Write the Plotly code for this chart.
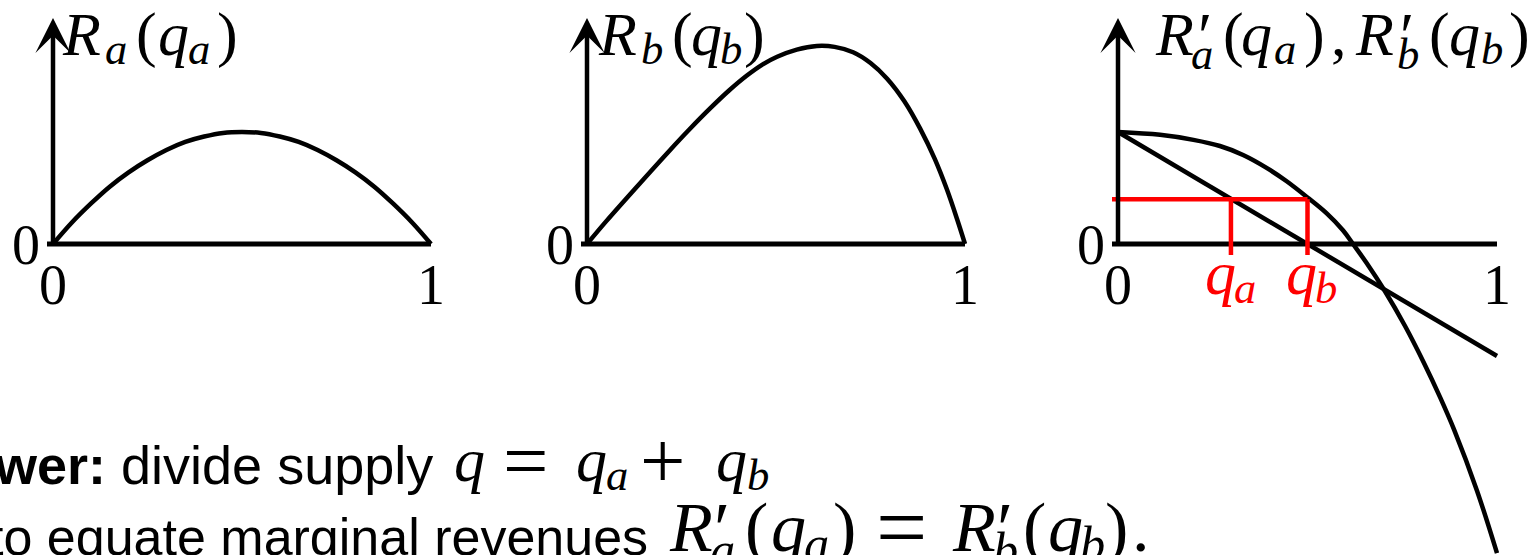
import plotly.graph_objects as go

# ---------------------------------------------------------------- data
# Revenue of market a, R_a(q_a)
q_rev_a = [0, 0.05, 0.1, 0.15, 0.2, 0.25, 0.3, 0.35, 0.4, 0.45, 0.5,
           0.55, 0.6, 0.65, 0.7, 0.75, 0.8, 0.85, 0.9, 0.95, 1.0]
rev_a = [0, 0.048, 0.09, 0.128, 0.16, 0.187, 0.21, 0.228, 0.24, 0.248, 0.25,
         0.248, 0.24, 0.228, 0.21, 0.187, 0.16, 0.128, 0.09, 0.048, 0]

# Revenue of market b, R_b(q_b)
q_rev_b = [0, 0.05, 0.132, 0.22, 0.27, 0.325, 0.375, 0.423, 0.465, 0.503, 0.555,
           0.608, 0.655, 0.704, 0.75, 0.794, 0.84, 0.881, 0.92, 0.952, 0.98, 1.0]
rev_b = [0, 0.05, 0.128, 0.21, 0.255, 0.302, 0.342, 0.376, 0.401, 0.418, 0.434,
         0.442, 0.44, 0.428, 0.404, 0.369, 0.318, 0.258, 0.19, 0.122, 0.053, 0]

# Marginal revenues R'_a (straight) and R'_b (curved)
q_mr_a = [0, 1.0]
mr_a = [1.0, -1.0]
q_mr_b = [0, 0.111, 0.199, 0.269, 0.33, 0.392, 0.445, 0.502, 0.55, 0.594, 0.62,
          0.656, 0.704, 0.757, 0.807, 0.85, 0.887, 0.947, 1.0]
mr_b = [1.0, 0.975, 0.93, 0.875, 0.795, 0.68, 0.56, 0.41, 0.275, 0.12, 0.0,
        -0.17, -0.42, -0.73, -1.06, -1.37, -1.66, -2.2, -2.76]

# Optimal split: both marginal revenues equal this level
q_a_opt = 0.298
q_b_opt = 0.5
mr_level = 0.4

tick_labels = ["0", "1"]

# ---------------------------------------------------------------- layout helpers
W, H = 1537, 555
SERIF = "Liberation Serif, Times New Roman, serif"
SANS = "Liberation Sans, Arial, Helvetica, sans-serif"
RED = "#ff0000"
BOX_MID = 0.3375   # text-box centre above the baseline, in em, for Liberation Serif

# pixel geometry of each small panel: origin, q=1 position, vertical scale, band
panels = [
    dict(x0=53, x1=431, y0=244, sy=448, left=0, right=520),
    dict(x0=587, x1=965, y0=244, sy=448, left=520, right=1060),
    dict(x0=1118, x1=1497, y0=244, sy=112, left=1060, right=1537),
]


def px(x):
    return x / W


def py(y):
    return 1 - y / H


annotations = []
shapes = []


def math_text(tokens, baseline, size, color="black"):
    """Lay out a formula token by token (x = left edge in pixels)."""
    axis = baseline - 0.25 * size
    for text, x, role in tokens:
        s, bl, t = size, baseline, text
        if role == "i":
            t = "<i>%s</i>" % text
        elif role == "sub":
            s, bl, t = 0.72 * size, baseline + 0.15 * size, "<i>%s</i>" % text
        elif role == "subp":
            s, bl, t = 0.72 * size, baseline + 0.23 * size, "<i>%s</i>" % text
        elif role == "prime":
            s, bl, t = 1.05 * size, baseline + 0.05 * size, "′"
        elif role == "op":
            s = 1.3 * size
            bl = axis + 0.27 * s
        annotations.append(dict(xref="paper", yref="paper",
                                x=px(x), y=py(bl - BOX_MID * s),
                                text=t, showarrow=False,
                                xanchor="left", yanchor="middle",
                                font=dict(family=SERIF, size=s, color=color)))


fig = go.Figure()
layout = dict(
    width=W, height=H,
    margin=dict(l=0, r=0, t=0, b=0, pad=0),
    paper_bgcolor="white", plot_bgcolor="white",
    showlegend=False,
)

for k, p in enumerate(panels, start=1):
    sx = p["x1"] - p["x0"]
    suffix = "" if k == 1 else str(k)
    layout["xaxis" + suffix] = dict(
        domain=[p["left"] / W, p["right"] / W],
        range=[(p["left"] - p["x0"]) / sx, (p["right"] - p["x0"]) / sx],
        visible=False, fixedrange=True, anchor="y" + suffix,
    )
    layout["yaxis" + suffix] = dict(
        domain=[0, 1],
        range=[-(H - p["y0"]) / p["sy"], p["y0"] / p["sy"]],
        visible=False, fixedrange=True, anchor="x" + suffix,
    )
    xr, yr = "x" + suffix, "y" + suffix
    p["sx"] = sx

    # horizontal axis (with a short stub left of the origin)
    shapes.append(dict(type="line", xref=xr, yref=yr,
                       x0=-6 / sx, x1=1, y0=0, y1=0,
                       line=dict(color="black", width=5)))
    # vertical axis with arrow head
    annotations.append(dict(xref=xr, yref=yr, axref=xr, ayref=yr,
                            x=0, y=(p["y0"] - 18) / p["sy"], ax=0, ay=-2 / p["sy"],
                            text="", showarrow=True, arrowhead=3,
                            arrowsize=1.3, arrowwidth=4.5, arrowcolor="black"))
    # tick labels 0 and 1 under the horizontal axis, 0 left of the origin
    for val, lab in zip([0, 1], tick_labels):
        annotations.append(dict(xref="paper", yref="paper",
                                x=px(p["x0"] + val * sx), y=py(285),
                                text=lab, showarrow=False,
                                xanchor="center", yanchor="middle",
                                font=dict(family=SERIF, size=56, color="black")))
    annotations.append(dict(xref="paper", yref="paper",
                            x=px(p["x0"] - 27), y=py(245),
                            text="0", showarrow=False,
                            xanchor="center", yanchor="middle",
                            font=dict(family=SERIF, size=56, color="black")))

curve = dict(color="black", width=4.5)

# panel 1: R_a
fig.add_trace(go.Scatter(x=q_rev_a, y=rev_a, xaxis="x", yaxis="y", mode="lines",
                         line=dict(shape="spline", smoothing=1.0, **curve),
                         hoverinfo="skip"))
# panel 2: R_b
fig.add_trace(go.Scatter(x=q_rev_b, y=rev_b, xaxis="x2", yaxis="y2", mode="lines",
                         line=dict(shape="spline", smoothing=1.0, **curve),
                         hoverinfo="skip"))
# panel 3: marginal revenues
fig.add_trace(go.Scatter(x=q_mr_a, y=mr_a, xaxis="x3", yaxis="y3", mode="lines",
                         line=curve, hoverinfo="skip"))
fig.add_trace(go.Scatter(x=q_mr_b, y=mr_b, xaxis="x3", yaxis="y3", mode="lines",
                         line=dict(shape="spline", smoothing=1.0, **curve),
                         hoverinfo="skip"))

# equal marginal revenue level and the two resulting quantities
p3 = panels[2]
drop = -11 / p3["sy"]
shapes.append(dict(type="line", xref="x3", yref="y3",
                   x0=-6 / p3["sx"], x1=q_b_opt, y0=mr_level, y1=mr_level,
                   line=dict(color=RED, width=4.5)))
for qv in (q_a_opt, q_b_opt):
    shapes.append(dict(type="line", xref="x3", yref="y3",
                       x0=qv, x1=qv, y0=mr_level, y1=drop,
                       line=dict(color=RED, width=4.5)))
math_text([("q", 1203, "i"), ("a", 1232, "sub")], 294, 62, RED)
math_text([("q", 1284, "i"), ("b", 1313, "sub")], 294, 62, RED)

# panel titles
math_text([("R", 60, "i"), ("a", 103, "sub"), ("(", 134, "n"), ("q", 156, "i"),
           ("a", 186, "sub"), (")", 215, "n")], 55, 62)
math_text([("R", 596, "i"), ("b", 639, "sub"), ("(", 670, "n"), ("q", 689, "i"),
           ("b", 718, "sub"), (")", 742, "n")], 55, 62)
math_text([("R", 1153, "i"), ("′", 1196, "prime"), ("a", 1189, "subp"),
           ("(", 1221, "n"), ("q", 1239, "i"), ("a", 1272, "sub"), (")", 1302, "n"),
           (",", 1329, "n"),
           ("R", 1353, "i"), ("′", 1398, "prime"), ("b", 1395, "subp"),
           ("(", 1427, "n"), ("q", 1447, "i"), ("b", 1479, "sub"), (")", 1507, "n")],
          55, 62)

# explanatory sentence below the panels
annotations += [
    dict(xref="paper", yref="paper", x=px(435), y=py(481 - 0.3*54),
         text="<b>Answer:</b> divide supply", showarrow=False,
         xanchor="right", yanchor="middle",
         font=dict(family=SANS, size=54, color="black")),
    dict(xref="paper", yref="paper", x=px(650), y=py(553 - 0.3*52),
         text="to equate marginal revenues", showarrow=False,
         xanchor="right", yanchor="middle",
         font=dict(family=SANS, size=52, color="black")),
]
math_text([("q", 452, "i"), ("=", 501, "op"), ("q", 574, "i"), ("a", 604, "sub"),
           ("+", 638, "op"), ("q", 714, "i"), ("b", 745, "sub")], 481, 62)
math_text([("R", 667, "i"), ("′", 712, "prime"), ("a", 708, "subp"),
           ("(", 743, "n"), ("q", 769, "i"), ("a", 802, "sub"), (")", 831, "n"),
           ("=", 874, "op"),
           ("R", 950, "i"), ("′", 995, "prime"), ("b", 991, "subp"),
           ("(", 1021, "n"), ("q", 1046, "i"), ("b", 1078, "sub"), (")", 1103, "n"),
           (".", 1130, "n")], 551, 70)

layout["shapes"] = shapes
layout["annotations"] = annotations
fig.update_layout(**layout)

fig.write_html("out.html", config={"displayModeBar": False, "staticPlot": True})
